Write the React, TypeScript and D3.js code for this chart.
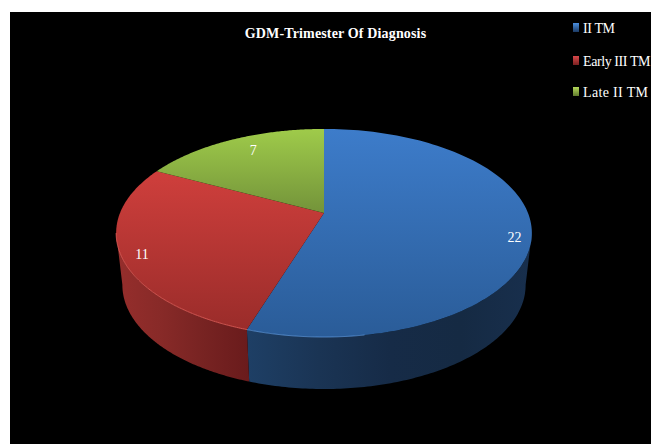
import React from "react";
import * as d3 from "d3";

// Patients per trimester of diagnosis
const categories = ["II TM", "Early III TM", "Late II TM"];
const counts = [22, 11, 7];
const chartTitle = "GDM-Trimester Of Diagnosis";

const WIDTH = 651;
const HEIGHT = 444;
const SERIF = "'Liberation Serif', 'Times New Roman', serif";

// Face and wall colours for each slice
const faceTop = ["#3d7cca", "#cf3f3c", "#9fcb4a"];
const faceBottom = ["#2a5c98", "#9a2c2a", "#73933a"];
const wallStops = [
  ["#1e3f65", "#1a3454", "#162b47", "#152a43", "#182f4d"],
  ["#6a1b1c", "#772322", "#882a28", "#962e2c"],
];
const rimColors = ["#5c97dc", "#e8625c"];
const swatchTop = ["#4a8fe0", "#d8484a", "#b4d85a"];
const swatchBottom = ["#1c3a64", "#7a2020", "#5f7a2c"];

// Perspective disc: the tilted pie is a projective image of a unit circle
const apexX = 324;
const apexY = 213;
const scaleU = 204;
const scaleV = 100.2;
const tilt = 0.192;
const depth = 52;
const floorShrink = 0.97;

const project = (angle: number, reach = 1): [number, number] => {
  const u = Math.sin(angle) * reach;
  const v = Math.cos(angle) * reach;
  const w = 1 + tilt * v;
  return [apexX + (scaleU * u) / w, apexY - (scaleV * v) / w];
};

const sweep = (a0: number, a1: number): number[] =>
  d3.range(0, 121).map((i) => a0 + ((a1 - a0) * i) / 120);

const pathOf = d3.line();

const slices = d3.pie<number>().sort(null).startAngle(0).endAngle(2 * Math.PI)(counts);

// Reach along each slice's bisector, and nudges, for the value labels
const labelReach = [0.9, 0.92, 0.72];
const labelShift: [number, number][] = [
  [4, 15],
  [4, 8],
  [-2, -3],
];

// Legend rows: swatch tops, text baselines and set widths of the names
const swatchY = [23, 56, 87];
const legendBaseline = [33, 66, 97];
const legendWidth = [32, 67.5, 65];

const nearLimit = Math.PI / 2 + 0.193;
const farLimit = (3 * Math.PI) / 2 - 0.193;
const blueRimStart = 2.98;

export default function App() {
  return (
    <svg
      width={WIDTH}
      height={HEIGHT}
      style={{ position: "absolute", left: 0, top: 0, background: "#fff" }}
    >
      <defs>
        {categories.map((_, i) => (
          <linearGradient key={i} id={`face${i}`} x1="0" x2="0" y1="0" y2="1">
            <stop offset="0" stopColor={faceTop[i]} />
            <stop offset="1" stopColor={faceBottom[i]} />
          </linearGradient>
        ))}
        {wallStops.map((stops, i) => (
          <linearGradient
            key={i}
            id={`wall${i}`}
            gradientUnits="userSpaceOnUse"
            x1={248}
            x2={i === 0 ? 532 : 116}
            y1={0}
            y2={0}
          >
            {stops.map((c, j) => (
              <stop key={j} offset={j / (stops.length - 1)} stopColor={c} />
            ))}
          </linearGradient>
        ))}
        {categories.map((_, i) => (
          <linearGradient key={i} id={`swatch${i}`} x1="0" x2="0" y1="0" y2="1">
            <stop offset="0" stopColor={swatchTop[i]} />
            <stop offset="1" stopColor={swatchBottom[i]} />
          </linearGradient>
        ))}
      </defs>

      <rect x={10} y={12} width={WIDTH - 10} height={HEIGHT - 12} fill="#000" />

      <text
        x={335.5}
        y={38}
        textAnchor="middle"
        fill="#fff"
        fontFamily={SERIF}
        fontWeight="bold"
        fontSize={14}
        letterSpacing={0.15}
      >
        {chartTitle}
      </text>

      {/* Cylinder wall: only the part of each slice on the near half shows */}
      {slices.map((s, i) => {
        const a0 = Math.max(s.startAngle, nearLimit - 0.001);
        const a1 = Math.min(s.endAngle, farLimit + 0.001);
        if (a1 <= a0 || !wallStops[i]) return null;
        const rim = sweep(a0, a1).map((a) => project(a));
        const floor = [...rim]
          .reverse()
          .map(([x, y]): [number, number] => [apexX + (x - apexX) * floorShrink, y + depth]);
        return <path key={i} d={`${pathOf([...rim, ...floor])}Z`} fill={`url(#wall${i})`} />;
      })}

      {/* Top face */}
      {slices.map((s, i) => {
        const pts: [number, number][] = [
          [apexX, apexY],
          ...sweep(s.startAngle, s.endAngle).map((a) => project(a)),
        ];
        return <path key={i} d={`${pathOf(pts)}Z`} fill={`url(#face${i})`} />;
      })}

      {/* Bevel highlight along the front edge of the face */}
      {slices.map((s, i) => {
        const a0 = Math.max(s.startAngle, i === 0 ? blueRimStart : nearLimit);
        const a1 = Math.min(s.endAngle, farLimit);
        if (a1 <= a0 || !rimColors[i]) return null;
        return (
          <path
            key={i}
            d={pathOf(sweep(a0, a1).map((a) => project(a))) ?? ""}
            fill="none"
            stroke={rimColors[i]}
            strokeWidth={1}
            strokeOpacity={0.8}
          />
        );
      })}

      {/* Value labels */}
      {slices.map((s, i) => {
        const [x, y] = project((s.startAngle + s.endAngle) / 2, labelReach[i]);
        return (
          <text
            key={i}
            x={x + labelShift[i][0]}
            y={y + labelShift[i][1]}
            textAnchor="middle"
            fill="#fff"
            fontFamily={SERIF}
            fontSize={14}
          >
            {s.data}
          </text>
        );
      })}

      {/* Legend */}
      {categories.map((name, i) => (
        <g key={name}>
          <rect x={573} y={swatchY[i]} width={6} height={9} fill={`url(#swatch${i})`} />
          <text
            x={583}
            y={legendBaseline[i]}
            fill="#fff"
            fontFamily={SERIF}
            fontSize={14}
            textLength={legendWidth[i]}
            lengthAdjust="spacing"
          >
            {name}
          </text>
        </g>
      ))}
    </svg>
  );
}
